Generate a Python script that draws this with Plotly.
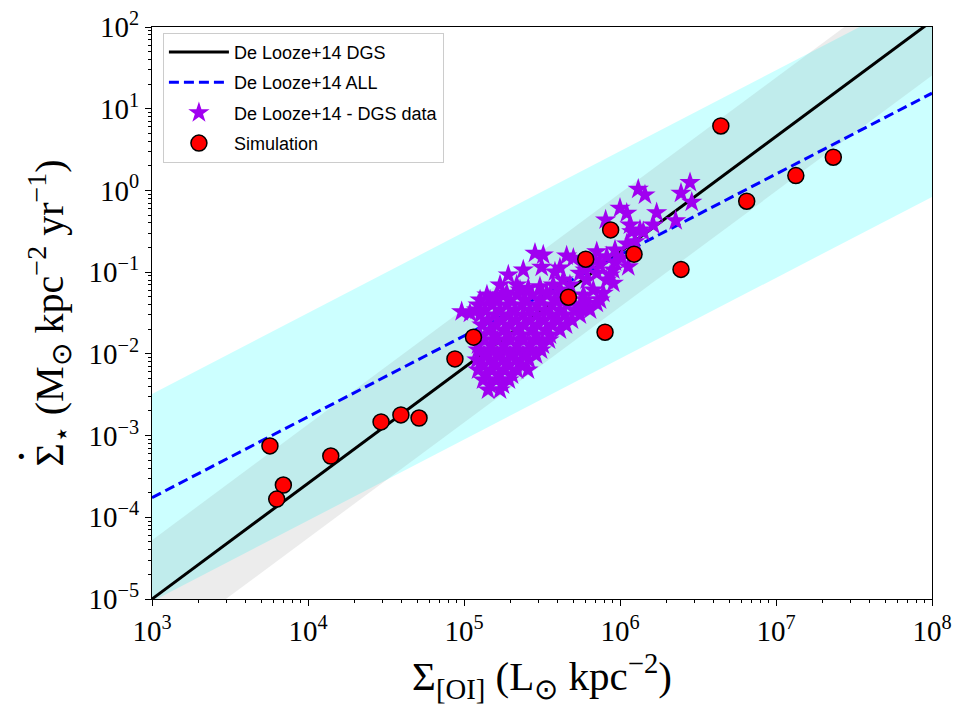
import plotly.graph_objects as go

# ---------------- data ----------------
# Simulation points (Sigma_[OI] in Lsun/kpc^2, Sigma_SFR in Msun/kpc^2/yr)
sim_x = [5.70e3, 6.95e3, 6.30e3, 1.40e4, 2.94e4, 3.94e4, 5.15e4, 8.75e4, 1.15e5,
         4.67e5, 6.03e5, 8.02e5, 8.71e5, 1.23e6, 2.46e6, 4.43e6, 6.49e6, 1.34e7, 2.33e7]
sim_y = [7.47e-4, 2.48e-4, 1.67e-4, 5.62e-4, 1.47e-3, 1.79e-3, 1.64e-3, 8.67e-3, 1.60e-2,
         4.93e-2, 0.144, 1.84e-2, 0.329, 0.166, 0.108, 6.15, 0.738, 1.52, 2.55]

# De Looze+14 DGS data (log10 values)
dgs_logx = [6.117, 6.160, 6.449, 6.391, 6.460, 6.000, 6.043, 6.235, 6.357, 5.908,
            6.064, 6.128, 6.213, 6.149, 6.075, 6.043, 6.096, 5.968, 5.851, 5.915,
            6.011, 6.053, 5.658, 5.701, 5.872, 5.455, 5.508, 5.498, 5.380, 5.284,
            5.636, 5.412, 5.231, 5.338, 5.572, 5.957, 5.851, 5.915, 5.786, 5.957,
            5.743, 5.829, 5.893, 5.765, 5.851, 5.786, 5.722, 4.985, 5.038, 5.081,
            5.167, 5.274, 5.210, 5.359, 5.487, 5.530, 5.808, 5.615,
            5.776, 5.679, 5.968, 5.583, 5.936, 5.840, 5.615,
            5.103, 5.199, 5.295, 5.391, 5.487, 5.583, 5.679, 5.776, 5.872,
            5.135, 5.231, 5.327, 5.423, 5.519, 5.615, 5.712, 5.808,
            5.154, 5.244, 5.333, 5.423, 5.513, 5.603, 5.692,
            5.167, 5.256, 5.346, 5.436, 5.526, 5.615,
            5.128, 5.212, 5.295, 5.378, 5.462, 5.545,
            5.090, 5.173, 5.256, 5.340, 5.423, 5.494,
            5.083, 5.167, 5.250, 5.333, 5.417,
            5.090, 5.173, 5.256, 5.340, 5.410,
            5.122, 5.205, 5.288,
            5.154, 5.231,
            5.147, 5.244, 5.340, 5.436, 5.532, 5.628,
            5.090, 5.180, 5.276, 5.372, 5.468, 5.564, 5.660, 5.756,
            5.103, 5.199, 5.288, 5.378, 5.468, 5.558, 5.647, 5.743,
            5.115, 5.205, 5.295, 5.385, 5.474, 5.564, 5.654,
            5.103, 5.192, 5.282, 5.372, 5.462, 5.551,
            5.090, 5.173, 5.256, 5.340, 5.423, 5.506,
            5.128, 5.212, 5.295, 5.378, 5.462,
            5.122, 5.205, 5.288, 5.372,
            5.141, 5.224, 5.308,
            5.167, 5.250]
dgs_logy = [0.015, -0.055, 0.096, -0.034, -0.144, -0.218, -0.279, -0.272, -0.370, -0.361,
            -0.422, -0.483, -0.422, -0.504, -0.504, -0.655, -0.627, -0.728, -0.749, -0.810,
            -0.830, -0.933, -0.802, -0.830, -0.912, -0.769, -0.789, -0.940, -0.973, -1.034,
            -1.095, -1.197, -1.157, -1.157, -1.157, -0.973, -1.013, -1.095, -1.095, -1.136,
            -1.013, -1.218, -1.258, -1.279, -1.381, -1.422, -1.463, -1.483, -1.503, -1.463,
            -1.340, -1.258, -1.300, -1.218, -1.177, -1.258, -0.875, -0.949,
            -0.973, -1.157, -0.875, -0.998, -1.034, -0.851, -1.218,
            -1.340, -1.340, -1.340, -1.340, -1.340, -1.340, -1.340, -1.340, -1.340,
            -1.463, -1.463, -1.463, -1.463, -1.463, -1.463, -1.463, -1.463,
            -1.585, -1.585, -1.585, -1.585, -1.585, -1.585, -1.585,
            -1.708, -1.708, -1.708, -1.708, -1.708, -1.708,
            -1.830, -1.830, -1.830, -1.830, -1.830, -1.830,
            -1.952, -1.952, -1.952, -1.952, -1.952, -1.952,
            -2.075, -2.075, -2.075, -2.075, -2.075,
            -2.197, -2.197, -2.197, -2.197, -2.197,
            -2.319, -2.319, -2.319,
            -2.442, -2.442,
            -1.279, -1.279, -1.279, -1.279, -1.279, -1.279,
            -1.401, -1.401, -1.401, -1.401, -1.401, -1.401, -1.401, -1.401,
            -1.524, -1.524, -1.524, -1.524, -1.524, -1.524, -1.524, -1.524,
            -1.646, -1.646, -1.646, -1.646, -1.646, -1.646, -1.646,
            -1.769, -1.769, -1.769, -1.769, -1.769, -1.769,
            -1.891, -1.891, -1.891, -1.891, -1.891, -1.891,
            -2.013, -2.013, -2.013, -2.013, -2.013,
            -2.136, -2.136, -2.136, -2.136,
            -2.258, -2.258, -2.258,
            -2.381, -2.381]

# De Looze+14 relations: log SFR = slope * log L + intercept
dgs_slope, dgs_intercept, dgs_up, dgs_down = 1.415, -9.245, 0.72, 0.67
all_slope, all_intercept, all_scatter = 0.99, -6.73, 1.27
x_range_log = [3, 8]
y_range_log = [-5, 2]

x_ticks = [1e3, 1e4, 1e5, 1e6, 1e7, 1e8]
x_ticktext = ["10<sup>3</sup>", "10<sup>4</sup>", "10<sup>5</sup>", "10<sup>6</sup>",
              "10<sup>7</sup>", "10<sup>8</sup>"]
y_ticks = [1e-5, 1e-4, 1e-3, 1e-2, 1e-1, 1e0, 1e1, 1e2]
y_ticktext = ["10<sup>\u22125</sup>", "10<sup>\u22124</sup>", "10<sup>\u22123</sup>",
              "10<sup>\u22122</sup>", "10<sup>\u22121</sup>", "10<sup>0</sup>",
              "10<sup>1</sup>", "10<sup>2</sup>"]

# ---------------- figure ----------------
lx = x_range_log
xs = [10 ** v for v in lx]


def rel(slope, intercept, off=0.0):
    return [10 ** (slope * v + intercept + off) for v in lx]


fig = go.Figure()

# ALL band (cyan)
up = rel(all_slope, all_intercept, all_scatter)
lo = rel(all_slope, all_intercept, -all_scatter)
fig.add_trace(go.Scatter(x=xs + xs[::-1], y=up + lo[::-1], fill="toself",
                         fillcolor="rgba(0,255,255,0.2)", line=dict(width=0),
                         mode="lines", showlegend=False, hoverinfo="skip"))
# DGS band (gray)
up = rel(dgs_slope, dgs_intercept, dgs_up)
lo = rel(dgs_slope, dgs_intercept, -dgs_down)
fig.add_trace(go.Scatter(x=xs + xs[::-1], y=up + lo[::-1], fill="toself",
                         fillcolor="rgba(128,128,128,0.15)", line=dict(width=0),
                         mode="lines", showlegend=False, hoverinfo="skip"))

fig.add_trace(go.Scatter(x=xs, y=rel(dgs_slope, dgs_intercept), mode="lines",
                         line=dict(color="black", width=3), name="De Looze+14 DGS",
                         legendgroup="a"))
fig.add_trace(go.Scatter(x=xs, y=rel(all_slope, all_intercept), mode="lines",
                         line=dict(color="blue", width=3, dash="10px,5px"),
                         name="De Looze+14 ALL", legendgroup="b"))
fig.add_trace(go.Scatter(x=[10 ** v for v in dgs_logx], y=[10 ** v for v in dgs_logy],
                         mode="markers", name="De Looze+14 - DGS data", legendgroup="c",
                         marker=dict(symbol="star", size=16, color="rgb(160,0,240)",
                                     line=dict(width=0))))
fig.add_trace(go.Scatter(x=sim_x, y=sim_y, mode="markers", name="Simulation",
                         legendgroup="d",
                         marker=dict(symbol="circle", size=16, color="red",
                                     line=dict(color="black", width=1.5))))

axis_common = dict(showline=True, linecolor="black", linewidth=1.3, mirror=True,
                   ticks="outside", ticklen=6, tickwidth=1.2, tickcolor="black",
                   showgrid=False, zeroline=False,
                   tickfont=dict(family="Liberation Serif", size=29, color="black"),
                   minor=dict(ticks="outside", ticklen=3, tickwidth=1, tickcolor="black",
                              dtick="D1", showgrid=False))

fig.update_xaxes(type="log", range=x_range_log, tickvals=x_ticks, ticktext=x_ticktext,
                 title=dict(text="\u03a3<sub>[OI]</sub> (L<sub>\u2299</sub> kpc<sup>\u22122</sup>)",
                            font=dict(family="Liberation Serif", size=41, color="black"),
                            standoff=6),
                 **axis_common)
fig.update_yaxes(type="log", range=y_range_log, tickvals=y_ticks, ticktext=y_ticktext,
                 title=dict(text="\u03a3<sub>\u22c6</sub> (M<sub>\u2299</sub> kpc<sup>\u22122</sup> yr<sup>\u22121</sup>)",
                            font=dict(family="Liberation Serif", size=40, color="black"),
                            standoff=12),
                 **axis_common)

# dot above the Sigma of the (rotated) y title
fig.add_annotation(text="\u00b7", xref="paper", yref="paper",
                   x=(21 - 152) / 780, y=1 - (456 - 27) / 572,
                   xanchor="center", yanchor="middle", showarrow=False,
                   font=dict(family="Liberation Serif", size=44, color="black"))

fig.update_layout(width=960, height=720, margin=dict(l=152, r=28, t=27, b=121, autoexpand=False),
                  plot_bgcolor="white", paper_bgcolor="white",
                  legend=dict(x=0.014, y=0.99, xanchor="left", yanchor="top",
                              bgcolor="rgba(255,255,255,0.85)", bordercolor="#cccccc",
                              borderwidth=1, itemwidth=60, traceorder="grouped",
                              font=dict(family="Liberation Sans", size=18, color="black"),
                              tracegroupgap=4))

fig.write_html("out.html")
